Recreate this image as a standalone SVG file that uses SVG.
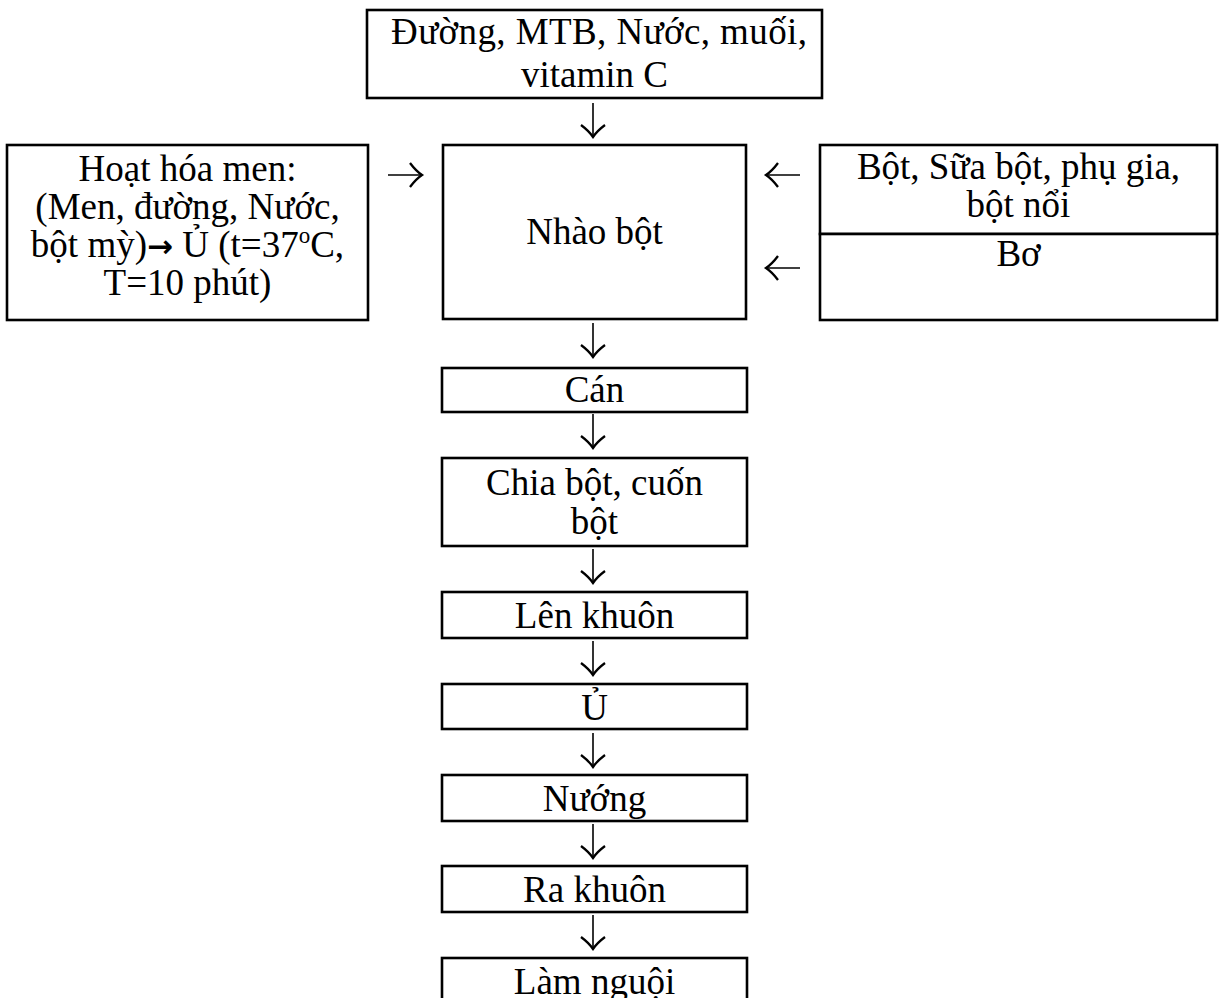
<svg xmlns="http://www.w3.org/2000/svg" xmlns:xlink="http://www.w3.org/1999/xlink" width="1219" height="998" viewBox="0 0 1219 998">
  <style>
    .box { fill: #ffffff; stroke: #000000; stroke-width: 2.6; }
    .lbl { font-family: "Liberation Serif", "Times New Roman", serif; font-size: 37px; fill: #000000; text-anchor: middle; }
    .sup { font-size: 23px; }
    .bold-arrow { font-family: "DejaVu Sans", sans-serif; font-weight: bold; font-size: 31px; }
    .arr { fill: none; stroke: #000000; stroke-width: 1.6; stroke-linecap: butt; }
    .head { fill: none; stroke: #000000; stroke-width: 2.3; stroke-linejoin: miter; }
  </style>
  <defs>
    <!-- downward arrow, tip at the origin -->
    <g id="down">
      <path class="arr" d="M0,-34 L0,-1"/>
      <path class="head" d="M-12,-12 Q-4,-6 0,0 Q4,-6 12,-12"/>
    </g>
  </defs>

  <!-- process boxes -->
  <g id="node-inputs-top">
    <rect class="box" x="367" y="10" width="455" height="88"/>
    <text class="lbl" x="599" y="44" textLength="416" lengthAdjust="spacing">Đường, MTB, Nước, muối,</text>
    <text class="lbl" x="594.5" y="87">vitamin C</text>
  </g>

  <g id="node-activation">
    <rect class="box" x="7" y="145" width="361" height="175"/>
    <text class="lbl" x="187.5" y="181">Hoạt hóa men:</text>
    <text class="lbl" x="187.5" y="219">(Men, đường, Nước,</text>
    <text class="lbl" x="187.5" y="257">bột mỳ)<tspan class="bold-arrow">→</tspan> Ủ (t=37<tspan class="sup" dy="-14">o</tspan><tspan dy="14">C,</tspan></text>
    <text class="lbl" x="187.5" y="295">T=10 phút)</text>
  </g>

  <g id="node-kneading">
    <rect class="box" x="443" y="145" width="303" height="174"/>
    <text class="lbl" x="594.5" y="244">Nhào bột</text>
  </g>

  <g id="node-flour">
    <rect class="box" x="820" y="145" width="397" height="89"/>
    <text class="lbl" x="1018.5" y="179">Bột, Sữa bột, phụ gia,</text>
    <text class="lbl" x="1018.5" y="217">bột nổi</text>
  </g>

  <g id="node-butter">
    <rect class="box" x="820" y="234" width="397" height="86"/>
    <text class="lbl" x="1018.5" y="266">Bơ</text>
  </g>

  <g id="node-rolling">
    <rect class="box" x="442" y="368" width="305" height="44"/>
    <text class="lbl" x="594.5" y="402">Cán</text>
  </g>

  <g id="node-dividing">
    <rect class="box" x="442" y="458" width="305" height="88"/>
    <text class="lbl" x="594.5" y="495">Chia bột, cuốn</text>
    <text class="lbl" x="594.5" y="534">bột</text>
  </g>

  <g id="node-molding">
    <rect class="box" x="442" y="592" width="305" height="46"/>
    <text class="lbl" x="594.5" y="628">Lên khuôn</text>
  </g>

  <g id="node-proofing">
    <rect class="box" x="442" y="684" width="305" height="45"/>
    <text class="lbl" x="594.5" y="720">Ủ</text>
  </g>

  <g id="node-baking">
    <rect class="box" x="442" y="775" width="305" height="46"/>
    <text class="lbl" x="594.5" y="811">Nướng</text>
  </g>

  <g id="node-demolding">
    <rect class="box" x="442" y="866" width="305" height="46"/>
    <text class="lbl" x="594.5" y="902">Ra khuôn</text>
  </g>

  <g id="node-cooling">
    <rect class="box" x="442" y="958" width="305" height="60"/>
    <text class="lbl" x="594.5" y="994">Làm nguội</text>
  </g>

  <!-- connectors -->
  <g id="connectors">
    <use xlink:href="#down" href="#down" x="593" y="137"/>
    <use xlink:href="#down" href="#down" x="593" y="357"/>
    <use xlink:href="#down" href="#down" x="593" y="448"/>
    <use xlink:href="#down" href="#down" x="593" y="583"/>
    <use xlink:href="#down" href="#down" x="593" y="675"/>
    <use xlink:href="#down" href="#down" x="593" y="767"/>
    <use xlink:href="#down" href="#down" x="593" y="858"/>
    <use xlink:href="#down" href="#down" x="593" y="949"/>
    <!-- side inputs -->
    <use xlink:href="#down" href="#down" transform="translate(422,175) rotate(-90)"/>
    <use xlink:href="#down" href="#down" transform="translate(766,175) rotate(90)"/>
    <use xlink:href="#down" href="#down" transform="translate(766,268) rotate(90)"/>
  </g>
</svg>
